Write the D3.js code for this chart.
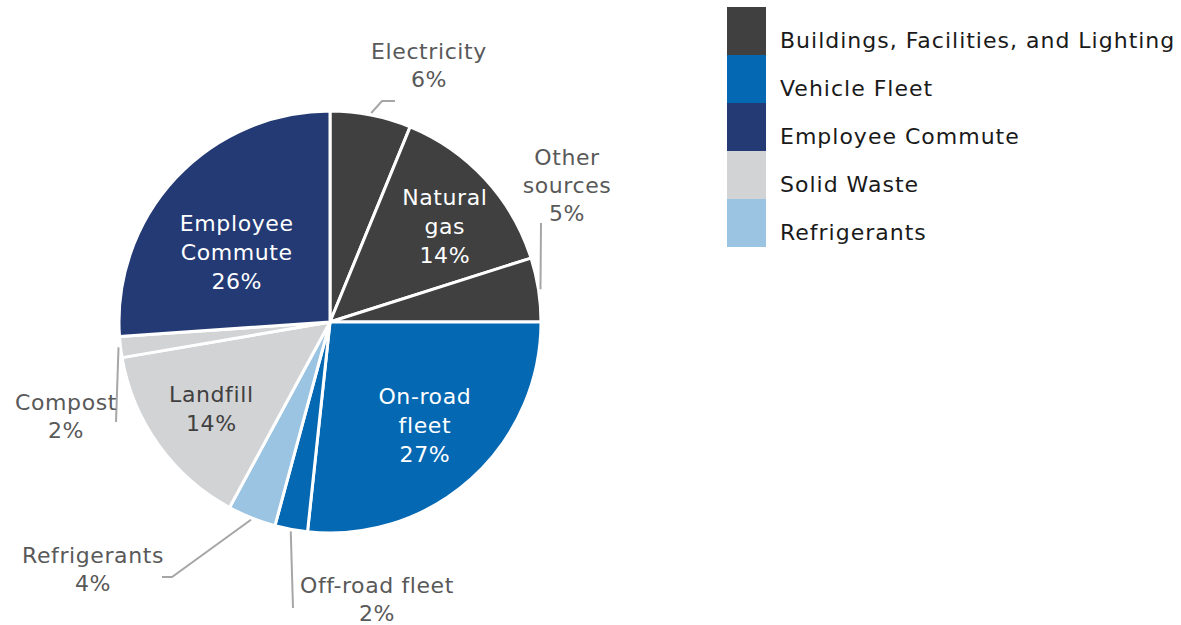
<!DOCTYPE html>
<html>
<head>
<meta charset="utf-8">
<script src="https://cdn.jsdelivr.net/npm/d3@7"></script>
<style>
  body { margin: 0; background: #fff; }
  text { font-family: "DejaVu Sans", sans-serif; }
</style>
</head>
<body>
<script>
// slices, clockwise from 12 o'clock
var sliceNames = ["Electricity", "Natural gas", "Other sources", "On-road fleet", "Off-road fleet",
                  "Refrigerants", "Landfill", "Compost", "Employee Commute"];
var sliceValues = [6.2, 13.9, 4.9, 26.7, 2.5, 3.7, 14.4, 1.6, 26.1];
var sliceLabels = ["6%", "14%", "5%", "27%", "2%", "4%", "14%", "2%", "26%"];
var sliceGroup = ["Buildings, Facilities, and Lighting", "Buildings, Facilities, and Lighting",
                  "Buildings, Facilities, and Lighting", "Vehicle Fleet", "Vehicle Fleet",
                  "Refrigerants", "Solid Waste", "Solid Waste", "Employee Commute"];

var legendNames = ["Buildings, Facilities, and Lighting", "Vehicle Fleet", "Employee Commute",
                   "Solid Waste", "Refrigerants"];
var legendColors = ["#404041", "#0568b3", "#233a74", "#d2d3d5", "#9bc3e2"];

var width = 1181, height = 625;
var cx = 330, cy = 322, R = 211;

// label layout: inside labels sit on a radius (plus a nudge), outside ones get an anchor + leader line
var labelLayout = [
  {out: true, x: 429, y: 59, lines: ["Electricity"], leader: [[382, 101], [395, 101]]},
  {out: false, r: 148, dx: 6, dy: 4, lines: ["Natural", "gas"]},
  {out: true, x: 567, y: 165, lines: ["Other", "sources"], leader: [[541, 223]]},
  {out: false, r: 142, dx: 0, dy: -3, lines: ["On-road", "fleet"]},
  {out: true, x: 377, y: 593, lines: ["Off-road fleet"], leader: [[293, 608]]},
  {out: true, x: 93, y: 563, lines: ["Refrigerants"], leader: [[172, 577], [162, 577]]},
  {out: false, r: 146, dx: 0, dy: 1, lines: ["Landfill"]},
  {out: true, x: 66, y: 410, lines: ["Compost"], leader: [[116, 422]]},
  {out: false, r: 118, dx: -7, dy: 11, lines: ["Employee", "Commute"]}
];

var color = d3.scaleOrdinal().domain(legendNames).range(legendColors);

var svg = d3.select("body").append("svg")
  .attr("width", width)
  .attr("height", height);

var pie = d3.pie().sort(null).value(function(d) { return d; });
var arcs = pie(sliceValues);

var arc = d3.arc().innerRadius(0).outerRadius(R);

var g = svg.append("g").attr("transform", "translate(" + cx + "," + cy + ")");

g.selectAll("path.slice")
  .data(arcs)
  .enter()
  .append("path")
  .attr("class", "slice")
  .attr("d", arc)
  .attr("fill", function(d, i) { return color(sliceGroup[i]); })
  .attr("stroke", "#fff")
  .attr("stroke-width", 3)
  .attr("stroke-linejoin", "round");

function polar(a, r) {
  return [Math.sin(a) * r, -Math.cos(a) * r];
}

var lineH = 29;

arcs.forEach(function(d, i) {
  var lay = labelLayout[i];
  var mid = (d.startAngle + d.endAngle) / 2;
  var lines = lay.lines.concat([sliceLabels[i]]);
  var x, y0, fill;

  if (lay.out) {
    var p0 = polar(mid, R + 2);
    var pts = [[cx + p0[0], cy + p0[1]]].concat(lay.leader);
    svg.append("path")
      .attr("d", d3.line()(pts))
      .attr("fill", "none")
      .attr("stroke", "#a6a6a6")
      .attr("stroke-width", 2);
    x = lay.x;
    y0 = lay.y;
    fill = "#595959";
  } else {
    var c = polar(mid, lay.r);
    x = cx + c[0] + lay.dx;
    y0 = cy + c[1] + lay.dy - (lines.length - 1) * lineH / 2 + 8;
    fill = sliceGroup[i] == "Solid Waste" ? "#404040" : "#ffffff";
  }

  var t = svg.append("text")
    .attr("text-anchor", "middle")
    .attr("font-size", 22)
    .attr("letter-spacing", 0.6)
    .attr("fill", fill);
  lines.forEach(function(s, k) {
    t.append("tspan").attr("x", x).attr("y", y0 + k * (lay.out ? 28 : lineH)).text(s);
  });
});

// legend
var legend = svg.append("g").attr("transform", "translate(727,7)");
var sw = 48;
legend.selectAll("rect")
  .data(legendNames)
  .enter()
  .append("rect")
  .attr("x", 0)
  .attr("y", function(d, i) { return i * sw; })
  .attr("width", 39)
  .attr("height", sw)
  .attr("fill", function(d) { return color(d); });

legend.selectAll("text")
  .data(legendNames)
  .enter()
  .append("text")
  .attr("x", 53)
  .attr("y", function(d, i) { return i * sw + 41; })
  .attr("font-size", 22)
  .attr("letter-spacing", 1)
  .attr("fill", "#1a1a1a")
  .text(function(d) { return d; });
</script>
</body>
</html>
